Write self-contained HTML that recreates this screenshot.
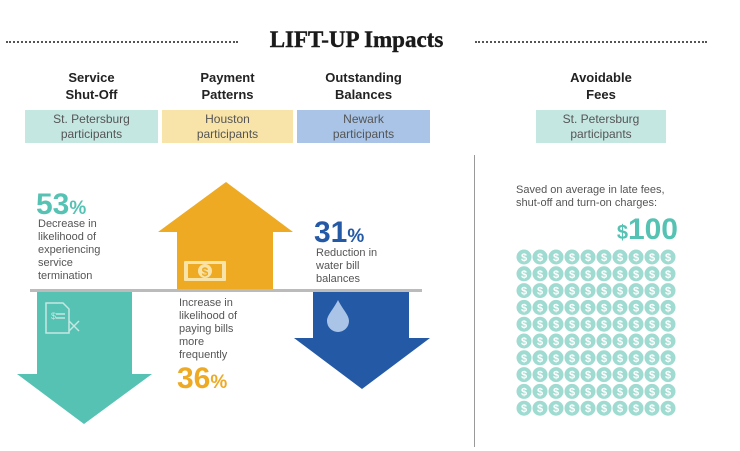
<!DOCTYPE html>
<html><head><meta charset="utf-8"><style>
body{margin:0;width:740px;height:451px;background:#fff;position:relative;overflow:hidden;font-family:"Liberation Sans",sans-serif;color:#222}
.a{position:absolute}
.h{font-weight:bold;font-size:13px;text-align:center;line-height:17px;color:#222}
.box{font-size:12px;color:#555;text-align:center;line-height:15px;padding-top:2px;box-sizing:border-box}
.t{font-size:11px;color:#555;line-height:13px}
.big{font-weight:bold;font-size:30px;line-height:30px}
.big span{font-size:19px}
</style></head><body>
<div class="a" style="left:6px;top:41px;width:232px;border-top:2px dotted #555"></div>
<div class="a" style="left:238px;top:27px;width:237px;text-align:center;font-family:'Liberation Serif',serif;font-weight:bold;font-size:23px;color:#1a1a1a;-webkit-text-stroke:0.4px #1a1a1a">LIFT-UP Impacts</div>
<div class="a" style="left:475px;top:41px;width:232px;border-top:2px dotted #555"></div>

<div class="a h" style="left:25px;top:69px;width:133px">Service<br>Shut-Off</div>
<div class="a h" style="left:162px;top:69px;width:131px">Payment<br>Patterns</div>
<div class="a h" style="left:297px;top:69px;width:133px">Outstanding<br>Balances</div>
<div class="a h" style="left:536px;top:69px;width:130px">Avoidable<br>Fees</div>

<div class="a box" style="left:25px;top:110px;width:133px;height:33px;background:#c5e7e2">St. Petersburg<br>participants</div>
<div class="a box" style="left:162px;top:110px;width:131px;height:33px;background:#f8e4a8">Houston<br>participants</div>
<div class="a box" style="left:297px;top:110px;width:133px;height:33px;background:#a9c4e6">Newark<br>participants</div>
<div class="a box" style="left:536px;top:110px;width:130px;height:33px;background:#c5e7e2">St. Petersburg<br>participants</div>

<div class="a" style="left:474px;top:155px;width:1px;height:292px;background:#999"></div>

<svg class="a" style="left:0;top:0" width="740" height="451">
<polygon points="37,291 132,291 132,374 152,374 84,424 17,374 37,374" fill="#56c2b3"/>
<polygon points="226,182 293,232 273,232 273,290 177,290 177,232 158,232" fill="#eeaa22"/>
<polygon points="313,292 409,292 409,338 430,338 362,389 294,338 313,338" fill="#2459a6"/>
<rect x="30" y="289" width="392" height="3" fill="#bbb"/>
<g fill="none" stroke="#f8e4a8" stroke-width="2">
<rect x="184" y="261" width="42" height="20" rx="1" fill="#f8e4a8" stroke="none"/>
<rect x="188" y="264" width="34" height="14" fill="#eeaa22" stroke="none"/>
<circle cx="205" cy="271" r="7" fill="#f8e4a8" stroke="none"/>
</g>
<text x="205" y="276" font-size="12" font-weight="bold" fill="#eeaa22" text-anchor="middle" font-family="Liberation Sans">$</text>
<g stroke="#c5e7e2" stroke-width="1.5" fill="none">
<path d="M46 303 h17 l6 6 v24 h-23 z"/>
<line x1="56" y1="314" x2="65" y2="314"/><line x1="56" y1="318" x2="65" y2="318"/>
<line x1="69" y1="321" x2="79" y2="331"/><line x1="79" y1="321" x2="69" y2="331"/>
</g>
<text x="51" y="319" font-size="9" fill="#c5e7e2" font-family="Liberation Sans">$</text>
<path d="M338 300 C333 310 327 315 327 321 a11 11 0 0 0 22 0 C349 315 343 310 338 300z" fill="#a9c4e6"/>
<g id="coins"></g>
</svg>

<div class="a big" style="left:36px;top:190px;color:#56c2b3">53<span>%</span></div>
<div class="a t" style="left:38px;top:218px">Decrease in<br>likelihood of<br>experiencing<br>service<br>termination</div>
<div class="a t" style="left:179px;top:297px">Increase in<br>likelihood of<br>paying bills<br>more<br>frequently</div>
<div class="a big" style="left:177px;top:364px;color:#eeaa22">36<span>%</span></div>
<div class="a big" style="left:314px;top:218px;color:#2459a6">31<span>%</span></div>
<div class="a t" style="left:316px;top:247px">Reduction in<br>water bill<br>balances</div>

<div class="a t" style="left:516px;top:184px;width:170px;text-align:left">Saved on average in late fees,<br>shut-off and turn-on charges:</div>
<div class="a" style="left:560px;top:214px;width:118px;text-align:right;color:#56c2b3;font-weight:bold;font-size:30px;line-height:32px"><span style="font-size:20px">$</span>100</div>

<script>
const coinRows = 10;
const coinCols = 10;
const g = document.getElementById('coins');
const ns = 'http://www.w3.org/2000/svg';
for (let r = 0; r < coinRows; r++) for (let c = 0; c < coinCols; c++) {
  const cx = 524 + c * 16, cy = 257 + r * 16.8;
  const ci = document.createElementNS(ns, 'circle');
  ci.setAttribute('cx', cx); ci.setAttribute('cy', cy); ci.setAttribute('r', 7.5);
  ci.setAttribute('fill', '#9fdbd1');
  
  
  g.appendChild(ci);
  const t = document.createElementNS(ns, 'text');
  t.setAttribute('x', cx); t.setAttribute('y', cy + 4);
  t.setAttribute('text-anchor', 'middle'); t.setAttribute('font-size', '11');
  t.setAttribute('font-weight', 'bold'); t.setAttribute('fill', '#fff');
  t.setAttribute('font-family', 'Liberation Sans');
  
  
  t.textContent = '$';
  g.appendChild(t);
}
</script>
</body></html>
